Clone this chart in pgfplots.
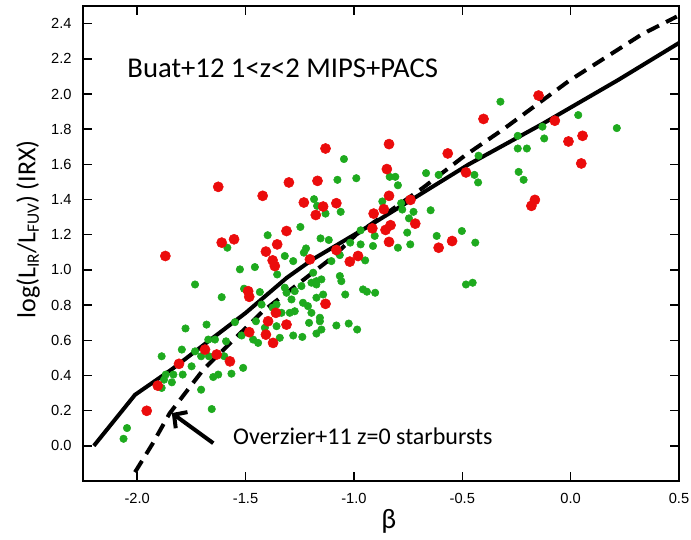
\documentclass[border=0pt]{standalone}
\usepackage{fontspec}
\setmainfont{Liberation Sans}
\newfontfamily\calibri{Carlito}
\usepackage{pgfplots}
\usepackage{pgfplotstable}
\pgfplotsset{compat=1.18}
\usetikzlibrary{arrows.meta}

\definecolor{ptred}{RGB}{235,12,12}
\definecolor{ptgreen}{RGB}{30,170,30}

% green points (beta, IRX)
\pgfplotstableread{
x y
-1.584 1.126
-1.398 1.197
-1.319 1.079
-1.526 1.003
-1.457 1.016
-1.046 1.630
-1.076 1.512
-0.989 1.521
-0.835 1.529
-0.809 1.529
-0.797 1.481
-0.667 1.550
-0.609 1.540
-0.444 1.540
-0.427 1.497
-1.184 1.402
-1.170 1.364
-1.131 1.320
-1.061 1.330
-0.869 1.389
-0.782 1.379
-0.777 1.343
-0.725 1.330
-0.646 1.339
-0.746 1.293
-1.247 1.244
-0.969 1.225
-0.904 1.193
-0.754 1.212
-0.502 1.221
-0.618 1.193
-0.440 1.155
-1.154 1.179
-1.116 1.170
-0.740 1.145
-0.797 1.126
-0.912 1.136
-0.969 1.145
-1.017 1.155
-1.221 1.122
-1.231 1.098
-1.065 1.084
-1.280 1.050
-0.948 1.054
-1.104 1.050
-0.324 1.956
0.035 1.880
-0.130 1.814
-0.122 1.747
-0.244 1.762
0.213 1.806
-0.244 1.690
-0.202 1.690
-0.425 1.649
-0.240 1.557
-0.217 1.512
-1.733 0.917
-1.610 0.845
-1.354 0.974
-1.507 0.893
-1.434 0.874
-1.319 0.899
-1.311 0.870
-1.426 0.803
-1.357 0.803
-1.334 0.756
-1.375 0.785
-1.452 0.708
-1.411 0.671
-1.357 0.680
-1.518 0.627
-1.465 0.604
-1.442 0.585
-1.342 0.614
-1.549 0.703
-1.680 0.689
-1.777 0.667
-1.672 0.604
-1.641 0.604
-1.590 0.594
-1.733 0.537
-1.794 0.547
-1.705 0.509
-1.669 0.509
-1.598 0.509
-1.511 0.443
-1.565 0.410
-1.626 0.405
-1.649 0.391
-1.749 0.452
-1.887 0.509
-1.868 0.405
-1.833 0.405
-1.790 0.405
-1.840 0.361
-1.876 0.376
-1.887 0.329
-1.705 0.319
-1.656 0.209
-2.047 0.101
-2.063 0.040
-0.483 0.917
-0.452 0.927
-1.188 0.984
-1.173 0.936
-1.150 0.946
-1.173 0.917
-1.196 0.927
-1.065 0.965
-1.058 0.936
-0.958 0.889
-0.940 0.876
-0.902 0.870
-1.040 0.860
-1.142 0.860
-1.242 0.908
-1.273 0.879
-1.288 0.832
-1.235 0.813
-1.212 0.794
-1.173 0.842
-1.196 0.756
-1.273 0.765
-1.296 0.756
-1.157 0.728
-1.157 0.708
-1.207 0.699
-1.081 0.684
-1.024 0.695
-0.985 0.661
-1.150 0.661
-1.173 0.638
-1.280 0.627
-1.238 0.619
}\greenpts

% red points (beta, IRX)
\pgfplotstableread{
x y
-1.626 1.472
-1.421 1.421
-1.300 1.497
-1.311 1.221
-1.610 1.155
-1.553 1.174
-1.354 1.145
-1.406 1.104
-1.870 1.079
-1.375 1.054
-1.365 1.022
-1.131 1.690
-0.838 1.715
-1.168 1.506
-0.848 1.573
-0.567 1.662
-0.483 1.554
-0.838 1.421
-1.231 1.383
-1.081 1.379
-1.142 1.360
-1.176 1.312
-0.909 1.320
-0.862 1.345
-0.739 1.398
-0.717 1.263
-0.915 1.236
-0.854 1.227
-0.831 1.254
-0.547 1.164
-0.609 1.126
-0.838 1.159
-1.081 1.113
-1.203 1.060
-1.019 1.047
-0.981 1.079
-0.148 1.991
-0.402 1.858
-0.073 1.848
-0.010 1.730
0.055 1.762
0.049 1.605
-0.165 1.398
-0.181 1.364
-1.488 0.879
-1.483 0.847
-1.360 0.756
-1.396 0.708
-1.311 0.689
-1.483 0.646
-1.406 0.632
-1.373 0.585
-1.687 0.547
-1.633 0.519
-1.572 0.480
-1.807 0.466
-1.905 0.342
-1.956 0.199
-1.131 0.807
}\redpts

\begin{document}
\begin{tikzpicture}
\begin{axis}[
  scale only axis, width=447pt, height=356.25pt,
  xmin=-2.25, xmax=0.5, ymin=-0.2, ymax=2.5,
  xtick={-2,-1.5,-1,-0.5,0,0.5},
  ytick={0,0.2,0.4,0.6,0.8,1.0,1.2,1.4,1.6,1.8,2.0,2.2,2.4},
  /pgf/number format/assume math mode=true,
  /pgf/number format/.cd, fixed, fixed zerofill, precision=1, /pgfplots/.cd,
  tick label style={font=\fontsize{11}{13}\selectfont},
  xticklabel style={yshift=-5.5pt},
  yticklabel style={xshift=-5pt},
  tick align=inside, major tick length=7pt,
  major tick style={line width=1.1pt, black},
  axis line style={line width=1.5pt},
  xlabel={\calibri\fontsize{21}{24}\selectfont β},
  xlabel style={at={(axis description cs:0.513,-0.06)}, anchor=north, inner sep=0pt},
  ylabel={\calibri\fontsize{19.5}{22}\selectfont log(L\raisebox{-0.28ex}{\fontsize{13}{13}\selectfont IR}/L\raisebox{-0.28ex}{\fontsize{13}{13}\selectfont FUV}) (IRX)},
  ylabel style={at={(axis description cs:-0.072,0.53)}, anchor=south, inner sep=0pt},
]
\addplot[only marks, mark=*, mark size=2.8pt, ptgreen, mark options={draw=ptgreen, fill=ptgreen}] table {\greenpts};
\addplot[only marks, mark=*, mark size=3.8pt, ptred, mark options={draw=ptred, fill=ptred}] table {\redpts};

% Overzier+11 relation
\addplot[black, line width=3pt, dash pattern=on 10pt off 6pt] coordinates {
  (-2.01,-0.15)(-1.93,0.01)(-1.85,0.185)(-1.695,0.433)(-1.57,0.585)(-1.42,0.765)
  (-1.37,0.813)(-1.10,1.07)(-0.99,1.20)(-0.68,1.468)(-0.49,1.648)(-0.31,1.80)
  (-0.006,2.076)(0.33,2.34)(0.49,2.44)};
% Meurer-type relation
\addplot[black, line width=3pt] coordinates {
  (-2.20,0.0)(-2.01,0.29)(-1.84,0.435)(-1.66,0.605)(-1.50,0.755)(-1.31,0.955)
  (-1.19,1.06)(-0.93,1.25)(-0.47,1.60)(-0.13,1.83)(0.22,2.08)(0.50,2.29)};

\node[anchor=base west, inner sep=0pt, font=\calibri\fontsize{21.5}{24}\selectfont]
  at (axis cs:-2.046,2.095) {Buat+12 1<z<2 MIPS+PACS};
\node[anchor=base west, inner sep=0pt, font=\calibri\fontsize{18}{21}\selectfont]
  at (axis cs:-1.558,0.006) {Overzier+11 z=0 starbursts};
\draw[line width=3pt, -{Straight Barb[length=7pt, width=15pt]}]
  (axis cs:-1.649,0.015) -- (axis cs:-1.840,0.186);
\end{axis}
\pgfresetboundingbox
\path[use as bounding box] ([shift={(-62.25pt,-43.5pt)}]current axis.south west)
  rectangle ([shift={(9pt,4.5pt)}]current axis.north east);
\end{tikzpicture}
\end{document}
